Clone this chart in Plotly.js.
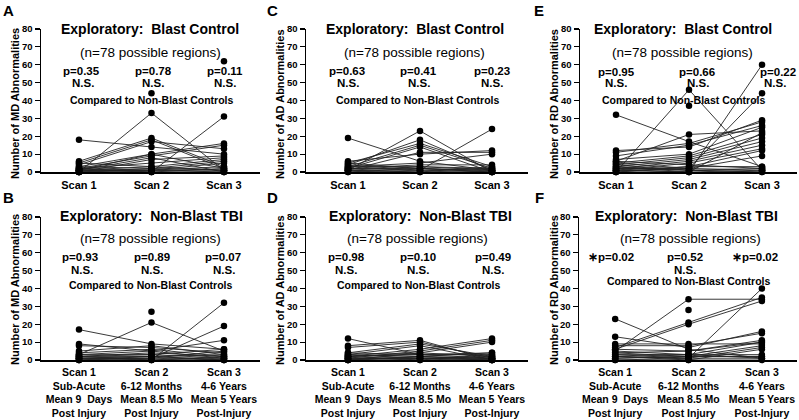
<!DOCTYPE html>
<html>
<head>
<meta charset="utf-8">
<script src="https://cdn.plot.ly/plotly-3.0.1.min.js"></script>
<style>html,body{margin:0;padding:0;background:#fff;}#chart{width:799px;height:420px;}</style>
</head>
<body>
<div id="chart"></div>
<script>
// ---------- categories / tick labels ----------
const scans = ["Scan 1", "Scan 2", "Scan 3"];
const bottomTickText = [
  "Scan 1<br>Sub-Acute<br>Mean 9\u00a0 Days<br>Post Injury",
  "Scan 2<br>6-12 Months<br>Mean 8.5 Mo<br>Post Injury",
  "Scan 3<br>4-6 Years<br>Mean 5 Years<br>Post-Injury"
];
const yTicks = [0, 10, 20, 30, 40, 50, 60, 70, 80];

// ---------- data: one entry per subject (null = scan missing) ----------
// A: MD, Blast Control
const mdBlastScan1 = [0, 18, null, null, 1, 6, 5, 4, 3, 2, 1, 0, 2, 1, 3, 0, 1, 2, 0, 1, 5, 0, 2, 1];
const mdBlastScan2 = [33, 14, 44, null, 0, 19, 18, 17, 10, 9, 8, 7, 5, 3, 2, 1, 1, 0, 2, 1, 3, 0, 1, 10];
const mdBlastScan3 = [1, 10, null, 62, 31, 3, 2, 13, 16, 15, 0, 9, 8, 7, 6, 5, 3, 2, 1, 0, 1, 0, 1, 2];
// B: MD, Non-Blast TBI
const mdTbiScan1 = [17, 3, null, 2, 1, 9, 8, 5, 4, 3, 2, 1, 0, 2, 1, 0, 3, 1, 2, 0];
const mdTbiScan2 = [9, 21, 27, 0, 1, 5, 7, 8, 6, 3, 2, 1, 0, 4, 2, 1, 5, 0, 3, 2];
const mdTbiScan3 = [6, 5, null, 32, 19, 11, 4, 3, 2, 1, 0, 5, 1, 2, 3, 0, 1, 2, 6, 0];
// C: AD, Blast Control
const adBlastScan1 = [19, 1, 2, 3, 4, 5, 2, 6, 1, 3, 2, 1, 0, 4, 1, 2, 0, 3, 1, 5];
const adBlastScan2 = [6, 23, 1, 15, 18, 16, 14, 10, 11, 5, 4, 3, 2, 1, 0, 2, 1, 3, 0, 2];
const adBlastScan3 = [1, 0, 24, 2, 1, 3, 0, 12, 11, 10, 4, 1, 0, 2, 3, 1, 0, 2, 1, 0];
// D: AD, Non-Blast TBI
const adTbiScan1 = [12, 8, 7, 4, 3, 2, 1, 0, 3, 2, 1, 0, 2, 1, 4, 0, 3, 2, 1, 0];
const adTbiScan2 = [3, 11, 10, 9, 8, 6, 5, 4, 2, 3, 1, 2, 0, 1, 3, 2, 1, 4, 0, 1];
const adTbiScan3 = [1, 0, 1, 2, 0, 12, 11, 10, 4, 3, 2, 1, 3, 0, 4, 0, 1, 2, 1, 0];
// E: RD, Blast Control
const rdBlastScan1 = [0, 32, null, 1, 2, 12, 11, 9, 7, 6, 5, 4, 3, 2, 1, 0, 5, 4, 3, 2, 1, 0, 6, 3, 1];
const rdBlastScan2 = [46, 17, 37, 0, 2, 14, 16, 15, 10, 21, 9, 8, 7, 6, 5, 3, 2, 1, 0, 1, 3, 2, 4, 1, 0];
const rdBlastScan3 = [1, 3, null, 60, 44, 29, 28, 26, 25, 23, 21, 19, 17, 15, 13, 12, 9, 2, 1, 0, 3, 1, 2, 0, 22];
// F: RD, Non-Blast TBI
const rdTbiScan1 = [5, 23, null, 2, 7, 6, 9, 13, 8, 4, 3, 1, 0, 2, 5, 1, 3, 0, 6, 4, 2];
const rdTbiScan2 = [34, 6, 28, 1, 21, 20, 9, 7, 8, 5, 3, 2, 1, 0, 3, 2, 1, 0, 5, 2, 3];
const rdTbiScan3 = [34, 1, null, 40, 35, 33, 9, 16, 15, 11, 10, 8, 7, 6, 3, 2, 1, 0, 10, 2, 1];

// ---------- text ----------
const titleBlast = "Exploratory:\u00a0 Blast Control";
const titleTbi = "Exploratory:\u00a0 Non-Blast TBI";
const subTitle = "(n=78 possible regions)";
const comparedText = "Compared to Non-Blast Controls";
const pA = ["p=0.35", "p=0.78", "p=0.11"], nsA = ["N.S.", "N.S.", "N.S."];
const pB = ["p=0.93", "p=0.89", "p=0.07"], nsB = ["N.S.", "N.S.", "N.S."];
const pC = ["p=0.63", "p=0.41", "p=0.23"], nsC = ["N.S.", "N.S.", "N.S."];
const pD = ["p=0.98", "p=0.10", "p=0.49"], nsD = ["N.S.", "N.S.", "N.S."];
const pE = ["p=0.95", "p=0.66", "p=0.22"], nsE = ["N.S.", "N.S.", "N.S."];
const pF = ["\u2217p=0.02", "p=0.52", "\u2217p=0.02"], nsF = ["", "N.S.", ""];

// ---------- layout config (pixels) ----------
const W = 799, H = 420;
const FONT = "Liberation Sans, Arial, Helvetica, sans-serif";
const panels = [
  {letter: "A", s1: mdBlastScan1, s2: mdBlastScan2, s3: mdBlastScan3, ylab: "Number of MD Abnormalities",
   title: titleBlast, p: pA, ns: nsA, x0: 41, x1: 260, top: 29, bot: 172, range: [-0.524, 2.497], bottomRow: false,
   tPos: [150, 29], sPos: [150, 52], pPos: [[81, 71], [153, 71], [225, 71]], nPos: [[83, 83], [153, 83], [225, 83]], cPos: [151, 100],
   letPos: [8, 10], yTitlePos: [15, 104]},
  {letter: "C", s1: adBlastScan1, s2: adBlastScan2, s3: adBlastScan3, ylab: "Number of AD Abnormalities",
   title: titleBlast, p: pC, ns: nsC, x0: 306, x1: 528, top: 29, bot: 172, range: [-0.583, 2.5], bottomRow: false,
   tPos: [415, 29], sPos: [415, 52], pPos: [[347, 71], [418, 71], [492, 71]], nPos: [[348, 83], [419, 83], [492, 83]], cPos: [417, 100],
   letPos: [272, 10], yTitlePos: [280, 104]},
  {letter: "E", s1: rdBlastScan1, s2: rdBlastScan2, s3: rdBlastScan3, ylab: "Number of RD Abnormalities",
   title: titleBlast, p: pE, ns: nsE, x0: 580, x1: 797, top: 29, bot: 172, range: [-0.493, 2.479], bottomRow: false,
   tPos: [683, 29], sPos: [682, 52], pPos: [[616, 72], [697, 72], [778, 72]], nPos: [[616, 83], [698, 83], [775, 83]], cPos: [683, 100],
   letPos: [539, 10], yTitlePos: [554, 104]},
  {letter: "B", s1: mdTbiScan1, s2: mdTbiScan2, s3: mdTbiScan3, ylab: "Number of MD Abnormalities",
   title: titleTbi, p: pB, ns: nsB, x0: 41, x1: 260, top: 217, bot: 360, range: [-0.524, 2.497], bottomRow: true,
   tPos: [151, 216], sPos: [150, 238], pPos: [[80, 257], [152, 257], [223, 257]], nPos: [[82, 270], [152, 270], [224, 270]], cPos: [150, 285],
   letPos: [8, 197], yTitlePos: [15, 290]},
  {letter: "D", s1: adTbiScan1, s2: adTbiScan2, s3: adTbiScan3, ylab: "Number of AD Abnormalities",
   title: titleTbi, p: pD, ns: nsD, x0: 306, x1: 528, top: 217, bot: 360, range: [-0.583, 2.5], bottomRow: true,
   tPos: [420, 216], sPos: [417, 238], pPos: [[346, 257], [418, 257], [493, 257]], nPos: [[346, 270], [418, 270], [493, 270]], cPos: [418, 285],
   letPos: [272, 197], yTitlePos: [280, 290]},
  {letter: "F", s1: rdTbiScan1, s2: rdTbiScan2, s3: rdTbiScan3, ylab: "Number of RD Abnormalities",
   title: titleTbi, p: pF, ns: nsF, x0: 579, x1: 797, top: 217, bot: 360, range: [-0.493, 2.479], bottomRow: true,
   tPos: [686, 216], sPos: [690, 238], pPos: [[611, 257], [685, 257], [755, 257]], nPos: [[611, 270], [685, 270], [755, 270]], cPos: [688, 281],
   letPos: [539, 197], yTitlePos: [554, 290]}
];

const px = x => x / W;
const py = y => 1 - y / H;

const data = [];
const layout = {
  width: W, height: H,
  margin: {l: 0, r: 0, t: 0, b: 0},
  paper_bgcolor: "#fff", plot_bgcolor: "rgba(0,0,0,0)",
  showlegend: false,
  font: {family: FONT, color: "#000"},
  annotations: []
};

function ann(text, pos, size, bold, extra) {
  return Object.assign({
    text: text, x: px(pos[0]), y: py(pos[1]), xref: "paper", yref: "paper",
    xanchor: "center", yanchor: "middle", showarrow: false,
    font: {family: FONT, size: size, color: "#000", weight: bold ? "bold" : "normal"}
  }, extra || {});
}

panels.forEach((p, k) => {
  const idx = k + 1;
  const xs = [], ys = [];
  for (let i = 0; i < p.s1.length; i++) {
    xs.push(scans[0], scans[1], scans[2], null);
    ys.push(p.s1[i], p.s2[i], p.s3[i], null);
  }
  data.push({
    type: "scatter", mode: "lines+markers",
    x: xs, y: ys,
    xaxis: "x" + (idx === 1 ? "" : idx), yaxis: "y" + (idx === 1 ? "" : idx),
    line: {color: "#222", width: 0.9},
    marker: {color: "#000", size: 6.5},
    cliponaxis: false, connectgaps: false, hoverinfo: "skip"
  });
  const xa = "xaxis" + (idx === 1 ? "" : idx), ya = "yaxis" + (idx === 1 ? "" : idx);
  layout[xa] = {
    domain: [px(p.x0), px(p.x1)], anchor: "y" + (idx === 1 ? "" : idx),
    type: "category", categoryarray: scans, range: p.range,
    showline: true, linecolor: "#000", linewidth: 1.5,
    ticks: "outside", ticklen: 2, tickcolor: "rgba(0,0,0,0)",
    showgrid: false, zeroline: false,
    tickvals: scans, ticktext: p.bottomRow ? bottomTickText : scans,
    tickfont: {family: FONT, size: p.bottomRow ? 10.5 : 11, color: "#000", weight: "bold"},
    fixedrange: true
  };
  layout[ya] = {
    domain: [py(p.bot), py(p.top)], anchor: "x" + (idx === 1 ? "" : idx),
    range: [0, 80], tickvals: yTicks,
    showline: true, linecolor: "#000", linewidth: 1.5,
    ticks: "outside", ticklen: 5, tickwidth: 1.2, tickcolor: "#000",
    showgrid: false, zeroline: false,
    tickfont: {family: FONT, size: 9.5, color: "#000", weight: "bold"},
    fixedrange: true
  };
  const A = layout.annotations;
  A.push(ann(p.letter, p.letPos, 15, true));
  A.push(ann(p.ylab, p.yTitlePos, 11, true, {textangle: -90}));
  A.push(ann(p.title, p.tPos, 14, true));
  A.push(ann(subTitle, p.sPos, 13.5, false));
  for (let j = 0; j < 3; j++) {
    A.push(ann(p.p[j], p.pPos[j], 11.5, true));
    if (p.ns[j]) A.push(ann(p.ns[j], p.nPos[j], 11.5, true));
  }
  A.push(ann(comparedText, p.cPos, 10.5, true));
});

Plotly.newPlot("chart", data, layout, {staticPlot: true, displayModeBar: false});
</script>
</body>
</html>
